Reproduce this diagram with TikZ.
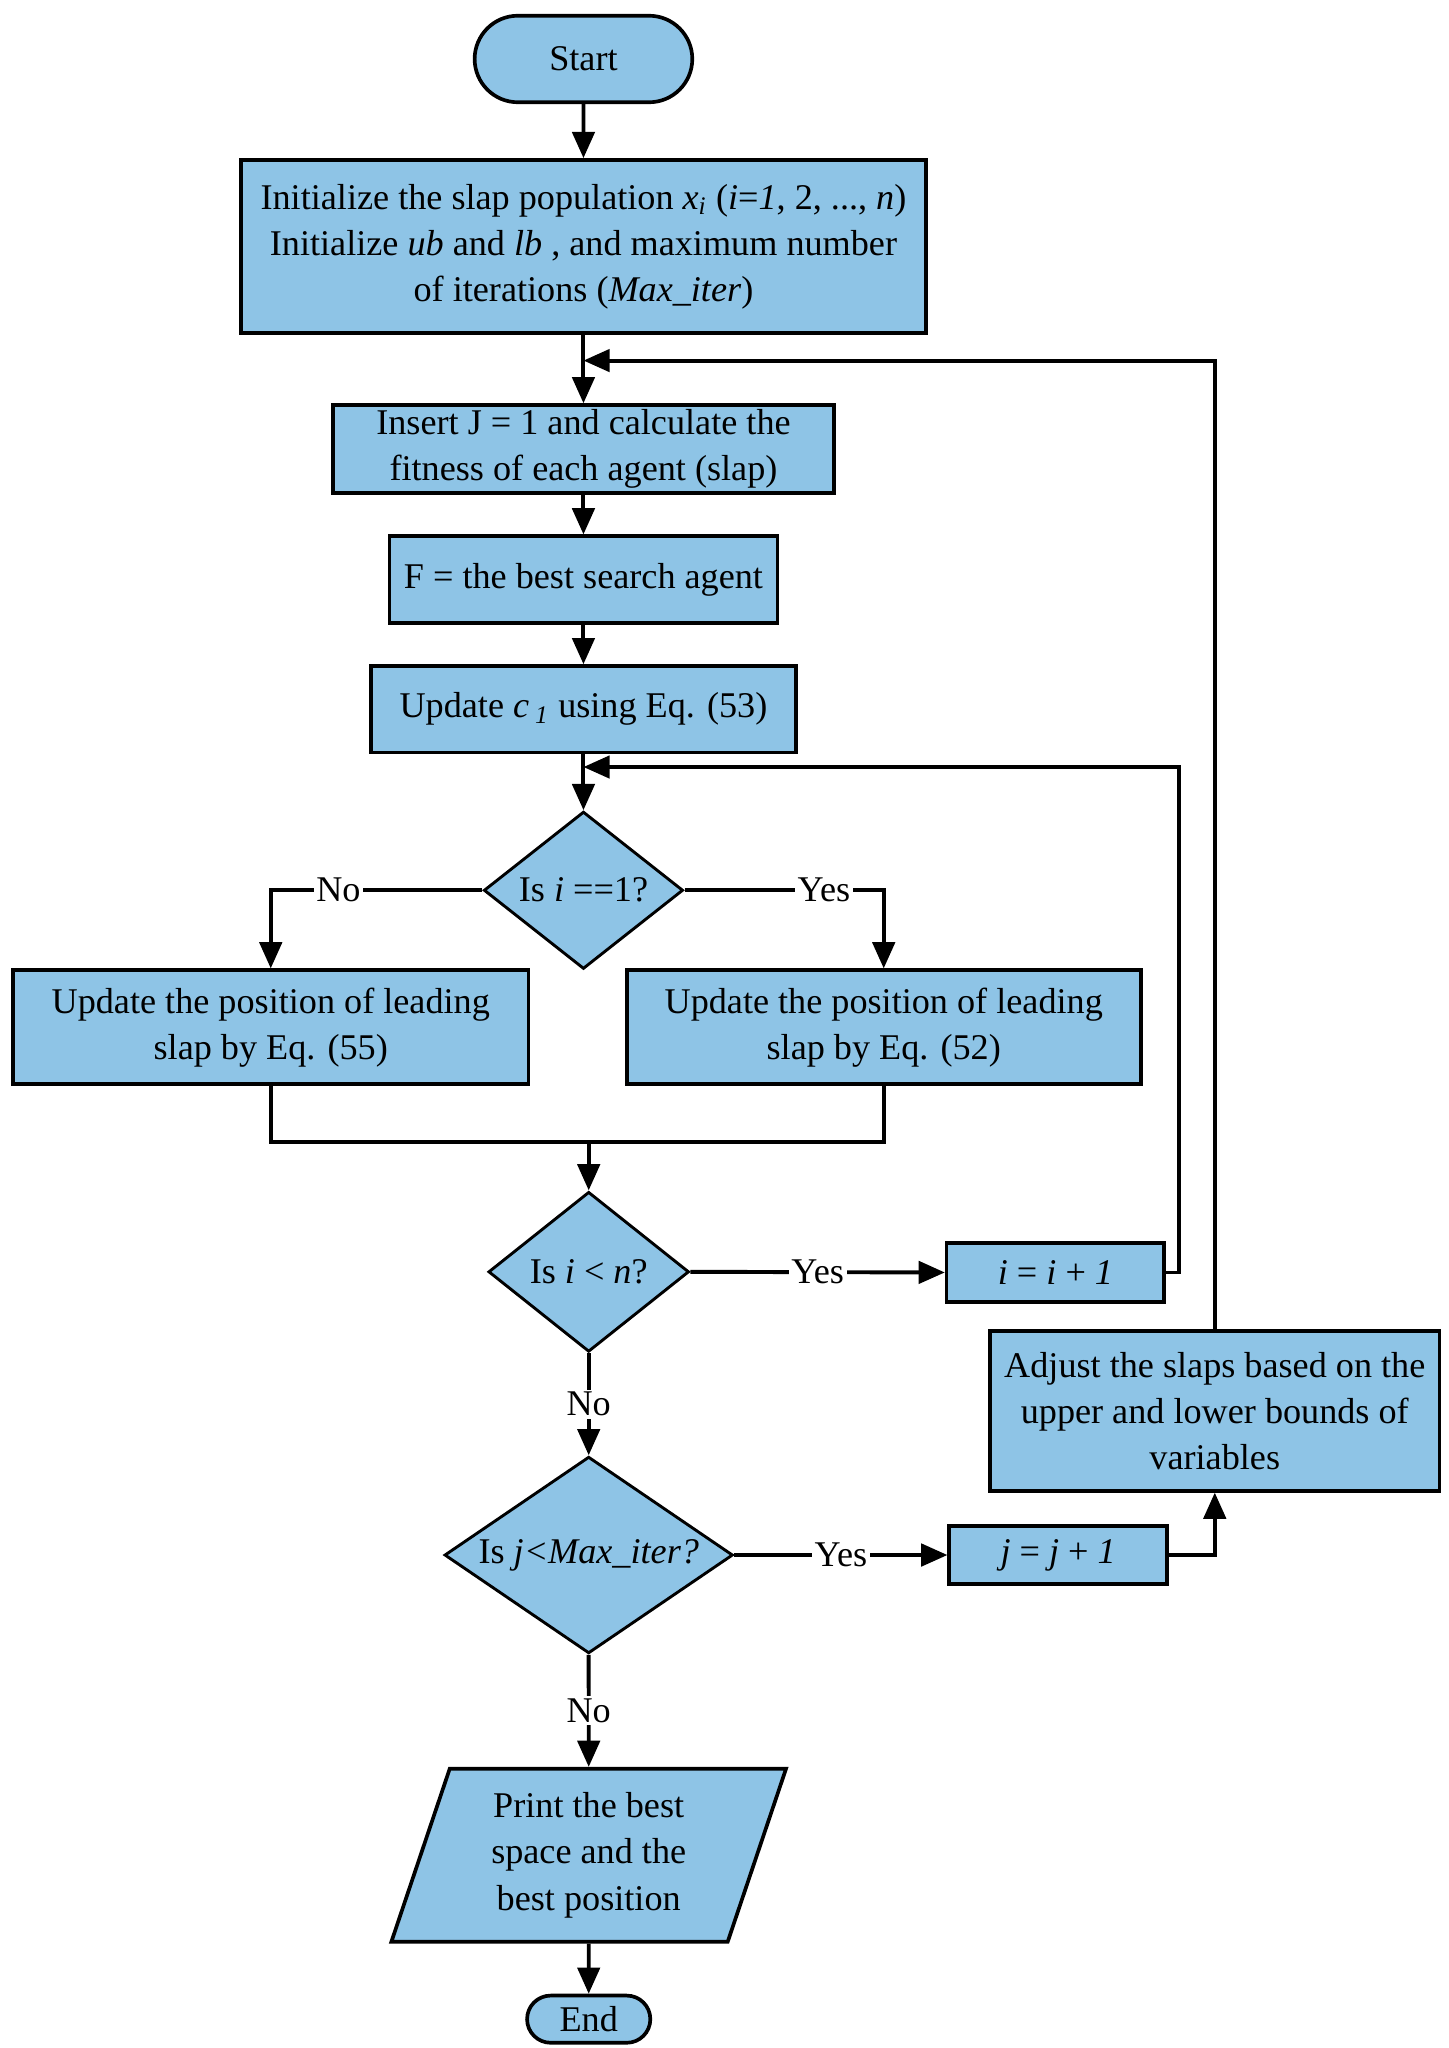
\documentclass[tikz,border=0pt]{standalone}
\usepackage{fontspec}
\setmainfont{Liberation Serif}
\usetikzlibrary{shapes.geometric,shapes.misc,arrows.meta}
\definecolor{boxblue}{RGB}{142,196,230}
\begin{document}
\begin{tikzpicture}[x=0.5pt,y=-0.5pt,
  font=\fontsize{13.8}{17.6}\selectfont,
  box/.style={draw, line width=1.4pt, fill=boxblue, align=center, inner sep=0pt},
  term/.style={rounded rectangle, draw, line width=1.4pt, fill=boxblue, inner sep=0pt},
  dia/.style={diamond, draw, line width=1.1pt, fill=boxblue, inner sep=0pt, align=center},
  para/.style={trapezium, trapezium left angle=65, trapezium right angle=115,
    trapezium stretches body, draw, line width=1.4pt, fill=boxblue, inner sep=0pt, align=center},
  conn/.style={line width=1.5pt},
  arr/.style={line width=1.5pt, -{Triangle[length=10pt,width=8.5pt]}},
  lbl/.style={fill=white, inner sep=1pt}]
\useasboundingbox (0,0) rectangle (1105,1562);

\node[term, minimum width=83pt, minimum height=33pt] (start) at (445,45) {Start};
\node[box, minimum width=261pt, minimum height=66pt] (init) at (445,188)
  {Initialize the slap population \textit{x\textsubscript{i}} (\textit{i}=\textit{1}, 2, ..., \textit{n})\\
   Initialize \textit{ub} and \textit{lb} , and maximum number\\
   of iterations (\textit{Max\_iter})};
\node[box, minimum width=191pt, minimum height=33.5pt] (insert) at (445,342.5)
  {Insert J = 1 and calculate the\\ fitness of each agent (slap)};
\node[box, minimum width=148pt, minimum height=33pt] (fbox) at (445,442)
  {F = the best search agent};
\node[box, minimum width=162pt, minimum height=33pt] (c1) at (445,541)
  {Update \textit{c\,\textsubscript{1}} using Eq. (53)};
\node[dia, aspect=1.27, minimum width=76pt, minimum height=60pt] (d1) at (445,679)
  {Is \textit{i} ==1?};
\node[box, minimum width=196.5pt, minimum height=43.5pt] (lbox) at (206.5,783.5)
  {Update the position of leading\\ slap by Eq. (55)};
\node[box, minimum width=196pt, minimum height=43.5pt] (rbox) at (674,783.5)
  {Update the position of leading\\ slap by Eq. (52)};
\node[dia, aspect=1.25, minimum width=76.5pt, minimum height=61pt] (d2) at (449,970)
  {Is \textit{i} < \textit{n}?};
\node[box, minimum width=83pt, minimum height=22.5pt] (ibox) at (805,970.5)
  {\textit{i} = \textit{i} + \textit{1}};
\node[box, minimum width=171.5pt, minimum height=61pt] (adj) at (926.5,1076)
  {Adjust the slaps based on the\\ upper and lower bounds of\\ variables};
\node[dia, aspect=1.47, minimum width=110pt, minimum height=75pt] (d3) at (449,1186)
  {Is \textit{j<Max\_iter?}};
\node[box, minimum width=83pt, minimum height=22pt] (jbox) at (807,1186)
  {\textit{j} = \textit{j} + \textit{1}};
\node[para, minimum width=150.5pt, minimum height=66pt] (pr) at (449,1415)
  {Print the best\\ space and the\\ best position};
\node[term, minimum width=47pt, minimum height=18pt] (end) at (449,1540) {End};

\coordinate (m) at (449,871);
\coordinate (r1) at (899,585);
\coordinate (j1) at (445,585);
\coordinate (j2) at (445,275);

\draw[arr] (start) -- (init);
\draw[arr] (init) -- (insert);
\draw[arr] (insert) -- (fbox);
\draw[arr] (fbox) -- (c1);
\draw[arr] (c1) -- (d1);
\draw[arr] (d1.west) -| node[lbl, pos=0.34] {No} (lbox.north);
\draw[arr] (d1.east) -| node[lbl, pos=0.35] {Yes} (rbox.north);
\draw[conn] (lbox.south) |- (m) -| (rbox.south);
\draw[arr] (m) -- (d2.north);
\draw[arr] (d2.east) -- node[lbl] {Yes} (ibox.west);
\draw[arr] (ibox.east) -| (r1) -- (j1);
\draw[arr] (d2.south) -- node[lbl] {No} (d3.north);
\draw[arr] (d3.east) -- node[lbl] {Yes} (jbox.west);
\draw[arr] (jbox.east) -| (adj.south);
\draw[arr] (adj.north) |- (j2);
\draw[arr] (d3.south) -- node[lbl] {No} (pr.north);
\draw[arr] (pr.south) -- (end.north);
\end{tikzpicture}
\end{document}
